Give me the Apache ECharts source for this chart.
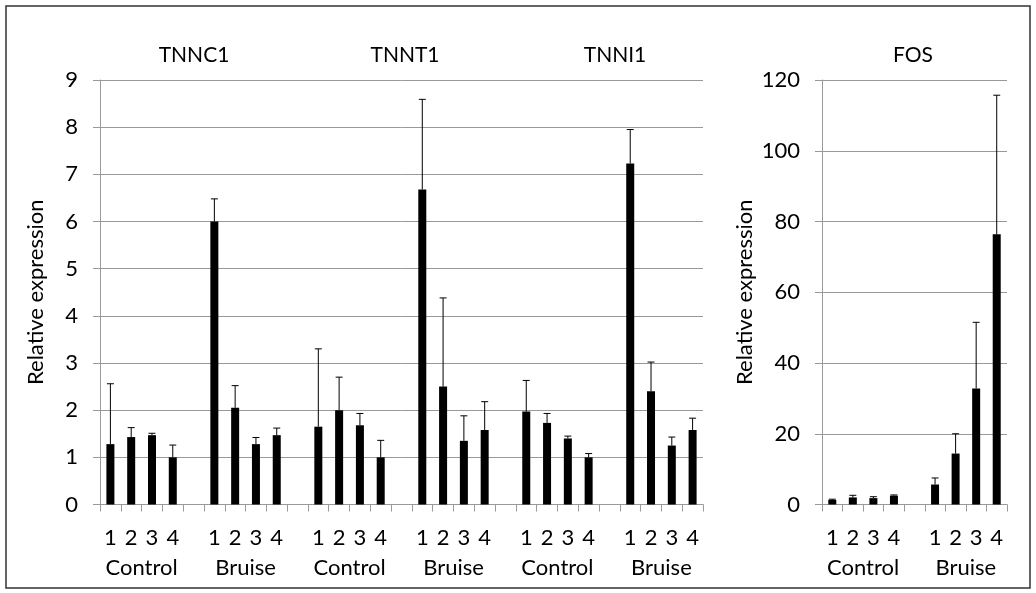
<!DOCTYPE html>
<html>
<head>
<meta charset="utf-8">
<script src="https://cdn.jsdelivr.net/npm/echarts@6/dist/echarts.min.js"></script>
<style>
html,body{margin:0;padding:0;background:#fff;}
#chart{width:1036px;height:593px;}
</style>
</head>
<body>
<div id="chart"></div>
<script>
// ---- Data ----
const sampleLabels = ['1', '2', '3', '4'];
const groupLabels = ['Control', 'Bruise'];
const leftGenes = ['TNNC1', 'TNNT1', 'TNNI1'];
const rightGene = 'FOS';

// means
const tnnc1Control = [1.28, 1.43, 1.47, 1.00];
const tnnc1Bruise  = [6.00, 2.05, 1.28, 1.47];
const tnnt1Control = [1.65, 2.00, 1.68, 1.00];
const tnnt1Bruise  = [6.68, 2.50, 1.35, 1.58];
const tnni1Control = [1.97, 1.73, 1.40, 1.00];
const tnni1Bruise  = [7.23, 2.40, 1.25, 1.58];
const fosControl   = [1.3, 2.0, 1.8, 2.5];
const fosBruise    = [5.65, 14.4, 32.8, 76.4];

// upper ends of error bars
const tnnc1ControlErr = [2.56, 1.63, 1.51, 1.26];
const tnnc1BruiseErr  = [6.48, 2.52, 1.42, 1.62];
const tnnt1ControlErr = [3.30, 2.70, 1.93, 1.36];
const tnnt1BruiseErr  = [8.59, 4.38, 1.88, 2.18];
const tnni1ControlErr = [2.63, 1.93, 1.45, 1.08];
const tnni1BruiseErr  = [7.95, 3.02, 1.43, 1.83];
const fosControlErr   = [1.5, 2.6, 2.2, 2.7];
const fosBruiseErr    = [7.5, 20.0, 51.5, 115.7];

const leftTicks = [0, 9, 1];      // min, max, interval
const rightTicks = [0, 120, 20];

// ---- Build ----
function buildAxis(groups, errGroups) {
  const cats = [], vals = [], errs = [];
  groups.forEach((g, gi) => {
    if (gi > 0) { cats.push(''); vals.push('-'); }
    g.forEach((v, i) => {
      const idx = cats.length;
      cats.push(sampleLabels[i]);
      vals.push(v);
      errs.push([idx, v, errGroups[gi][i]]);
    });
  });
  return {cats, vals, errs};
}
const left = buildAxis(
  [tnnc1Control, tnnc1Bruise, tnnt1Control, tnnt1Bruise, tnni1Control, tnni1Bruise],
  [tnnc1ControlErr, tnnc1BruiseErr, tnnt1ControlErr, tnnt1BruiseErr, tnni1ControlErr, tnni1BruiseErr]);
const right = buildAxis([fosControl, fosBruise], [fosControlErr, fosBruiseErr]);

const FONT = 'Lato';
const GRID_COLOR = '#999';

function errRender(params, api) {
  const x = api.value(0), v = api.value(1), e = api.value(2);
  const p0 = api.coord([x, v]);
  const p1 = api.coord([x, e]);
  return {
    type: 'group',
    children: [
      {type: 'line', shape: {x1: p0[0], y1: p0[1], x2: p1[0], y2: p1[1]},
       style: {stroke: '#000', lineWidth: 1}},
      {type: 'line', shape: {x1: p1[0] - 3.5, y1: p1[1], x2: p1[0] + 3.5, y2: p1[1]},
       style: {stroke: '#000', lineWidth: 1}}
    ]
  };
}

function groupFormatter(v) {
  if (v >= 2 && (v - 2) % 5 === 0) {
    return groupLabels[((v - 2) / 5) % 2];
  }
  return '';
}

function catAxis(gridIndex, cats) {
  return {
    type: 'category', gridIndex, data: cats, boundaryGap: true,
    axisLine: {lineStyle: {color: GRID_COLOR, width: 1}},
    axisTick: {show: true, interval: 0, length: 7, lineStyle: {color: GRID_COLOR}},
    axisLabel: {interval: 0, fontFamily: FONT, fontSize: 22, color: '#000', margin: 22},
    splitLine: {show: false}
  };
}
function groupAxis(gridIndex, n) {
  return {
    type: 'value', gridIndex, min: 0, max: n, interval: 1, position: 'bottom',
    axisLine: {show: false}, axisTick: {show: false}, splitLine: {show: false},
    axisLabel: {fontFamily: FONT, fontSize: 22, color: '#000', margin: 52,
      showMinLabel: false, showMaxLabel: false, formatter: groupFormatter}
  };
}
function valAxis(gridIndex, ticks, gap, margin) {
  return {
    type: 'value', gridIndex, min: ticks[0], max: ticks[1], interval: ticks[2],
    name: 'Relative expression', nameLocation: 'middle', nameGap: gap,
    nameTextStyle: {fontFamily: FONT, fontSize: 22, color: '#000'},
    axisLine: {show: true, lineStyle: {color: GRID_COLOR, width: 1}},
    axisTick: {show: true, length: 7, lineStyle: {color: GRID_COLOR}},
    axisLabel: {fontFamily: FONT, fontSize: 22, color: '#000', margin: margin},
    splitLine: {show: true, lineStyle: {color: GRID_COLOR, width: 1}}
  };
}

const titleStyle = {fontFamily: FONT, fontSize: 21, fontWeight: 'normal', color: '#000'};
const titlePos = [194, 405, 615];

const option = {
  backgroundColor: '#fff',
  animation: false,
  title: leftGenes.map((g, i) => ({
    text: g, left: titlePos[i], top: 45, textAlign: 'center', textStyle: titleStyle, padding: 0
  })).concat([{text: rightGene, left: 913, top: 45, textAlign: 'center', textStyle: titleStyle, padding: 0}]),
  graphic: [{
    type: 'rect', shape: {x: 6, y: 6, width: 1024, height: 582},
    style: {fill: 'none', stroke: '#333', lineWidth: 1.5}, silent: true
  }],
  grid: [
    {left: 100, right: 333, top: 80, bottom: 88.5},
    {left: 822, right: 29, top: 80, bottom: 88.5}
  ],
  xAxis: [
    catAxis(0, left.cats),
    groupAxis(0, left.cats.length),
    catAxis(1, right.cats),
    groupAxis(1, right.cats.length)
  ],
  yAxis: [
    valAxis(0, leftTicks, 53, 22),
    valAxis(1, rightTicks, 66, 22)
  ],
  series: [
    {type: 'bar', xAxisIndex: 0, yAxisIndex: 0, data: left.vals, barWidth: 8,
     itemStyle: {color: '#000'}},
    {type: 'custom', xAxisIndex: 0, yAxisIndex: 0, data: left.errs, renderItem: errRender, z: 5},
    {type: 'bar', xAxisIndex: 2, yAxisIndex: 1, data: right.vals, barWidth: 8,
     itemStyle: {color: '#000'}},
    {type: 'custom', xAxisIndex: 2, yAxisIndex: 1, data: right.errs, renderItem: errRender, z: 5}
  ]
};

const chart = echarts.init(document.getElementById('chart'), null, {renderer: 'canvas'});
chart.setOption(option);
</script>
</body>
</html>
